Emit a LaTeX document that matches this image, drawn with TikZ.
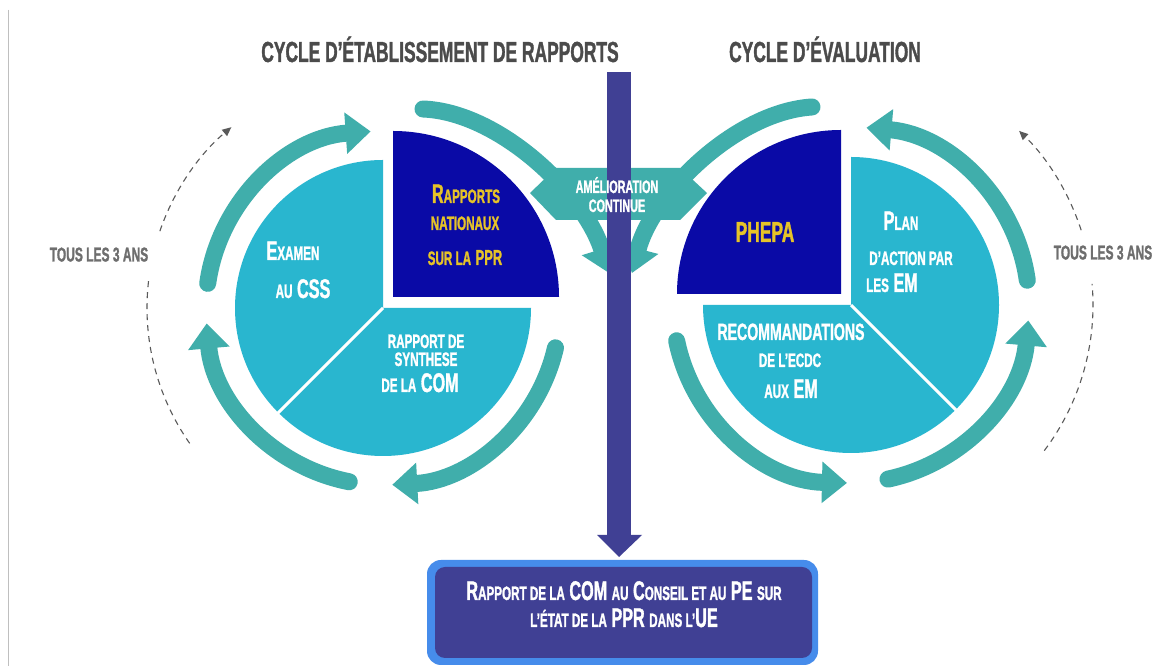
\documentclass[tikz,border=0pt]{standalone}
\usepackage{fontspec}
\usepackage{graphicx}
\newfontfamily\osw{Liberation Sans}[FakeStretch=0.6, BoldFeatures={FakeBold=1.2}]
\usetikzlibrary{arrows.meta,calc}
\definecolor{cteal}{RGB}{64,174,171}
\definecolor{clight}{RGB}{41,182,207}
\definecolor{cnavy}{RGB}{10,10,166}
\definecolor{cgold}{RGB}{230,195,40}
\definecolor{cpurple}{RGB}{64,64,148}
\definecolor{cboxblue}{RGB}{70,140,235}
\definecolor{chead}{RGB}{75,75,75}
\definecolor{clab}{RGB}{110,110,110}
\definecolor{cdash}{RGB}{90,90,90}
\newcommand\lc[1]{\scalebox{0.72}{#1}}
\begin{document}
\begin{tikzpicture}[x=1pt,y=1pt,
  lab/.style={inner sep=0pt, anchor=base},
  pt/.style={lab, text=white, font=\osw\bfseries\fontsize{27}{30}\selectfont},
  gt/.style={pt, text=cgold},
  ringarrow/.style={draw=cteal, line width=17pt, line cap=round, -{Triangle[width=40pt,length=25pt]}},
  dsh/.style={draw=cdash, line width=1.1pt, dash pattern=on 6pt off 5pt},
  dtip/.style={-{Triangle[width=8pt,length=9pt]}}
]
\useasboundingbox (0,0) rectangle (1154,666);
\fill[white] (0,0) rectangle (1154,666);
\coordinate (LC) at (383,358);
\coordinate (RC) at (851,361);
% left thin line
\draw[black!25, line width=1pt] (8,656) -- (8,0);
% ring arrows left
\draw[ringarrow] ($(LC)+(172:177)$) arc[start angle=172, end angle=94, radius=177];
\draw[ringarrow] ($(LC)+(259:177)$) arc[start angle=259, end angle=185, radius=177];
\draw[ringarrow] ($(LC)+(347:177)$) arc[start angle=347, end angle=273, radius=177];
% ring arrows right
\draw[ringarrow] ($(RC)+(8:178)$) arc[start angle=8, end angle=85, radius=178];
\draw[ringarrow] ($(RC)+(-78:178)$) arc[start angle=-78, end angle=-5, radius=178];
\draw[ringarrow] ($(RC)+(191.6:178)$) arc[start angle=191.6, end angle=268.7, radius=178];
% central arrows
\draw[ringarrow] (423,557) .. controls (500,554) and (585,471) .. (609,393);
\draw[ringarrow] (812,559) .. controls (735,554) and (652,471) .. (632,393);
\fill[cteal] (530,473) -- (556,498) -- (680,498) -- (707,473) -- (680,446) -- (556,446) -- cycle;
% pies left
\fill[clight] (LC) -- ($(LC)+(90:148)$) arc[start angle=90, end angle=360, radius=148] -- cycle;
\draw[white, line width=3pt] (LC) -- ($(LC)+(225:150)$);
\fill[cnavy] (393,369) -- ++(166,0) arc[start angle=0, end angle=90, radius=166] -- cycle;
% pies right
\fill[clight] (RC) -- ($(RC)+(180:148)$) arc[start angle=180, end angle=450, radius=148] -- cycle;
\draw[white, line width=3pt] (RC) -- ($(RC)+(315:150)$);
\fill[cnavy] (841,372) -- ++(0,164) arc[start angle=90, end angle=180, radius=164] -- cycle;
% purple bar
\fill[cpurple] (607,594) rectangle (631,131);
\fill[cpurple] (597,131) -- (642,131) -- (619,109) -- cycle;
% amelioration text
\node[lab, text=white, font=\osw\bfseries\fontsize{18}{20}\selectfont] (am1) at (617,473) {AMÉLIORATION};
\node[lab, text=white, font=\osw\bfseries\fontsize{18}{20}\selectfont] (am2) at (617,454) {CONTINUE};
% bottom box
\fill[cboxblue, rounded corners=14pt] (427,1) rectangle (818,106);
\fill[cpurple, rounded corners=10pt] (435,8) rectangle (812,99);
\node[pt, font=\osw\bfseries\fontsize{27}{30}\selectfont] (bx1) at (624,66) {R\lc{APPORT DE LA} COM \lc{AU} C\lc{ONSEIL ET AU} PE \lc{SUR}};
\node[pt, font=\osw\bfseries\fontsize{27}{30}\selectfont] (bx2) at (624,39) {\lc{L’ÉTAT DE LA} PPR \lc{DANS L’}UE};
% headings
\node[lab, text=chead, font=\osw\bfseries\fontsize{29}{32}\selectfont] (h1) at (440,604) {CYCLE D’ÉTABLISSEMENT DE RAPPORTS};
\node[lab, text=chead, font=\osw\bfseries\fontsize{29}{32}\selectfont] (h2) at (825,604) {CYCLE D’ÉVALUATION};
% left pie texts
\node[pt] (ex1) at (293,406) {E\lc{XAMEN}};
\node[pt] (ex2) at (303,368) {\lc{AU} CSS};
\node[gt] (rn1) at (466,463) {R\lc{APPORTS}};
\node[gt] (rn2) at (465,436) {\lc{NATIONAUX}};
\node[gt] (rn3) at (465,401) {\lc{SUR LA} \scalebox{0.8}{PPR}};
\node[pt] (rs1) at (426,318) {\lc{RAPPORT DE}};
\node[pt] (rs2) at (426,300) {\lc{SYNTHESE}};
\node[pt] (rs3) at (420,274) {\lc{DE LA} COM};
% right pie texts
\node[gt, font=\osw\bfseries\fontsize{29}{32}\selectfont] (ph) at (765,424) {PHEPA};
\node[pt] (pl1) at (901,436) {P\lc{LAN}};
\node[pt] (pl2) at (911,401) {\lc{D’ACTION PAR}};
\node[pt] (pl3) at (892,374) {\lc{LES} EM};
\node[pt, font=\osw\bfseries\fontsize{23.5}{26}\selectfont] (rc1) at (791,326) {RECOMMANDATIONS};
\node[pt] (rc2) at (790,299) {\lc{DE L’ECDC}};
\node[pt] (rc3) at (791,268) {\lc{AUX} EM};
% dashed cycles
\draw[dsh] ($(LC)+(215:236)$) arc[start angle=215, end angle=173, radius=236];
\draw[dsh, dtip] ($(LC)+(161:236)$) arc[start angle=161, end angle=130, radius=236];
\draw[dsh] ($(RC)+(-37:242)$) arc[start angle=-37, end angle=5, radius=242];
\draw[dsh, dtip] ($(RC)+(18:242)$) arc[start angle=18, end angle=46, radius=242];
\node[lab, text=clab, font=\osw\bfseries\fontsize{20}{22}\selectfont] (t1) at (99,404.5) {TOUS LES 3 ANS};
\node[lab, text=clab, font=\osw\bfseries\fontsize{20}{22}\selectfont] (t2) at (1103,406.5) {TOUS LES 3 ANS};
\end{tikzpicture}
\end{document}
